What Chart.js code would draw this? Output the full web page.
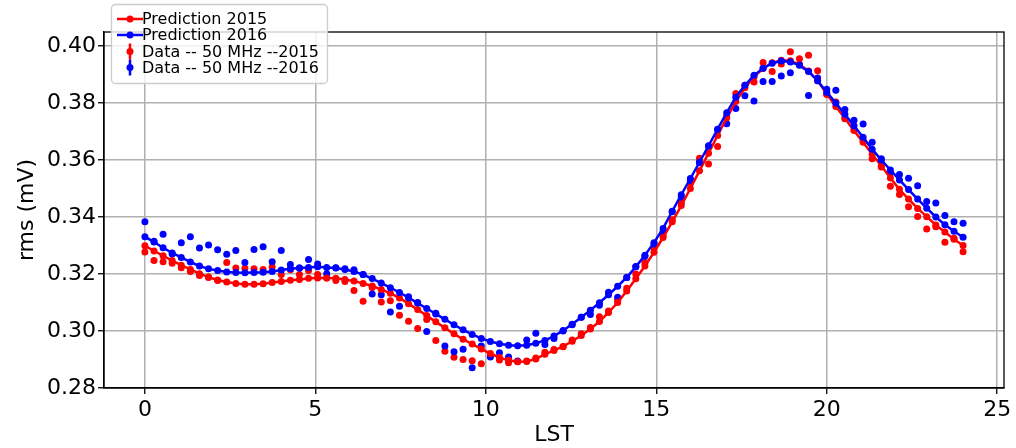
<!DOCTYPE html>
<html>
<head>
<meta charset="utf-8">
<script src="https://cdn.jsdelivr.net/npm/chart.js@4/dist/chart.umd.min.js"></script>
<style>
  body { margin: 0; background: #fff; }
  #wrap { width: 1016px; height: 448px; }
</style>
</head>
<body>
<div id="wrap"><canvas id="myChart"></canvas></div>
<script>
// LST bins (hours)
const lst = [
    0, 0.267, 0.533, 0.8, 1.067, 1.333, 1.6, 1.867, 2.133, 2.4,
    2.667, 2.933, 3.2, 3.467, 3.733, 4, 4.267, 4.533, 4.8, 5.067,
    5.333, 5.6, 5.867, 6.133, 6.4, 6.667, 6.933, 7.2, 7.467, 7.733,
    8, 8.267, 8.533, 8.8, 9.067, 9.333, 9.6, 9.867, 10.133, 10.4,
    10.667, 10.933, 11.2, 11.467, 11.733, 12, 12.267, 12.533, 12.8, 13.067,
    13.333, 13.6, 13.867, 14.133, 14.4, 14.667, 14.933, 15.2, 15.467, 15.733,
    16, 16.267, 16.533, 16.8, 17.067, 17.333, 17.6, 17.867, 18.133, 18.4,
    18.667, 18.933, 19.2, 19.467, 19.733, 20, 20.267, 20.533, 20.8, 21.067,
    21.333, 21.6, 21.867, 22.133, 22.4, 22.667, 22.933, 23.2, 23.467, 23.733,
    24
];

const pred2015 = [
    0.3299, 0.3281, 0.3264, 0.3247, 0.3231, 0.3216, 0.3201, 0.3189, 0.3179, 0.3172,
    0.3167, 0.3164, 0.3164, 0.3166, 0.3170, 0.3174, 0.3178, 0.3181, 0.3185, 0.3186,
    0.3186, 0.3185, 0.3181, 0.3175, 0.3167, 0.3158, 0.3146, 0.3132, 0.3116, 0.3096,
    0.3075, 0.3054, 0.3032, 0.3011, 0.2990, 0.2971, 0.2954, 0.2937, 0.2921, 0.2907,
    0.2897, 0.2892, 0.2893, 0.2902, 0.2918, 0.2932, 0.2946, 0.2964, 0.2984, 0.3007,
    0.3033, 0.3065, 0.3100, 0.3140, 0.3183, 0.3228, 0.3276, 0.3328, 0.3383, 0.3440,
    0.3500, 0.3562, 0.3624, 0.3686, 0.3748, 0.3805, 0.3853, 0.3892, 0.3921, 0.3941,
    0.3950, 0.3948, 0.3935, 0.3912, 0.3878, 0.3832, 0.3788, 0.3746, 0.3703, 0.3662,
    0.3620, 0.3580, 0.3537, 0.3497, 0.3463, 0.3430, 0.3401, 0.3372, 0.3347, 0.3322,
    0.3300
];

const pred2016 = [
    0.3331, 0.3312, 0.3292, 0.3274, 0.3258, 0.3242, 0.3228, 0.3218, 0.3212, 0.3207,
    0.3205, 0.3204, 0.3205, 0.3206, 0.3209, 0.3214, 0.3218, 0.3221, 0.3223, 0.3225,
    0.3223, 0.3221, 0.3216, 0.3209, 0.3198, 0.3184, 0.3168, 0.3152, 0.3135, 0.3117,
    0.3098, 0.3079, 0.3060, 0.3041, 0.3022, 0.3004, 0.2988, 0.2974, 0.2963, 0.2955,
    0.2950, 0.2948, 0.2950, 0.2957, 0.2967, 0.2982, 0.3002, 0.3024, 0.3048, 0.3073,
    0.3099, 0.3127, 0.3157, 0.3188, 0.3225, 0.3266, 0.3310, 0.3360, 0.3420, 0.3478,
    0.3535, 0.3592, 0.3650, 0.3708, 0.3766, 0.3820, 0.3862, 0.3897, 0.3922, 0.3939,
    0.3947, 0.3944, 0.3932, 0.3910, 0.3878, 0.3838, 0.3800, 0.3760, 0.3720, 0.3680,
    0.3638, 0.3600, 0.3565, 0.3530, 0.3496, 0.3463, 0.3431, 0.3400, 0.3373, 0.3350,
    0.3329
];

const data2015 = [
    0.3277, 0.3247, 0.3243, 0.3238, 0.3222, 0.3209, 0.3195, 0.3188, 0.3177, 0.3240,
    0.3221, 0.3220, 0.3218, 0.3216, 0.3225, 0.3198, 0.3215, 0.3198, 0.3212, 0.3198,
    0.3186, 0.3177, 0.3174, 0.3142, 0.3104, 0.3153, 0.3102, 0.3106, 0.3055, 0.3034,
    0.3009, 0.3040, 0.2967, 0.2929, 0.2908, 0.2900, 0.2896, 0.2885, 0.2912, 0.2898,
    0.2889, 0.2893, 0.2895, 0.2905, 0.2925, 0.2935, 0.2945, 0.2968, 0.2990, 0.3012,
    0.3050, 0.3070, 0.3108, 0.3150, 0.3200, 0.3240, 0.3292, 0.3335, 0.3390, 0.3450,
    0.3520, 0.3606, 0.3586, 0.3647, 0.3755, 0.3833, 0.3862, 0.3874, 0.3942, 0.3910,
    0.3937, 0.3980, 0.3955, 0.3967, 0.3913, 0.3830, 0.3803, 0.3745, 0.3706, 0.3668,
    0.3604, 0.3575, 0.3508, 0.3479, 0.3436, 0.3402, 0.3358, 0.3366, 0.3311, 0.3325,
    0.3278
];

const data2016 = [
    0.3383, 0.3315, 0.3339, 0.3270, 0.3310, 0.3331, 0.3291, 0.3302, 0.3285, 0.3269,
    0.3282, 0.3240, 0.3286, 0.3296, 0.3243, 0.3282, 0.3233, 0.3221, 0.3251, 0.3235,
    0.3201, 0.3222, 0.3218, 0.3215, 0.3198, 0.3130, 0.3127, 0.3067, 0.3087, 0.3120,
    0.3100, 0.2998, 0.3062, 0.2947, 0.2927, 0.2936, 0.2871, 0.2947, 0.2909, 0.2924,
    0.2909, 0.2895, 0.2968, 0.2992, 0.2953, 0.2974, 0.3000, 0.3022, 0.3048, 0.3058,
    0.3090, 0.3136, 0.3118, 0.3188, 0.3226, 0.3262, 0.3305, 0.3348, 0.3418, 0.3470,
    0.3528, 0.3590, 0.3648, 0.3706, 0.3727, 0.3781, 0.3825, 0.3807, 0.3875, 0.3875,
    0.3895, 0.3906, 0.3935, 0.3826, 0.3888, 0.3848, 0.3845, 0.3777, 0.3739, 0.3726,
    0.3662, 0.3604, 0.3554, 0.3549, 0.3536, 0.3510, 0.3454, 0.3449, 0.3405, 0.3383,
    0.3378
];

const xTicks = [0, 5, 10, 15, 20, 25];
const yTicks = [0.28, 0.30, 0.32, 0.34, 0.36, 0.38, 0.40];
const seriesNames = ['Prediction 2015', 'Prediction 2016', 'Data -- 50 MHz --2015', 'Data -- 50 MHz --2016'];
const seriesColors = ['#ff0000', '#0000ff', '#ff0000', '#0000ff'];

const toPoints = (ys) => ys.map((y, i) => ({x: lst[i], y: y}));

Chart.defaults.font.family = "'DejaVu Sans', sans-serif";
Chart.defaults.color = '#000';

// black box round the axes, like matplotlib spines
const frame = {
    id: 'frame',
    afterDatasetsDraw(chart) {
        const a = chart.chartArea;
        const ctx = chart.ctx;
        ctx.save();
        ctx.strokeStyle = '#000';
        ctx.lineWidth = 1.3;
        ctx.strokeRect(a.left, a.top, a.right - a.left, a.bottom - a.top);
        ctx.restore();
    }
};

// legend box in the upper left corner
const mplLegend = {
    id: 'mplLegend',
    afterDraw(chart) {
        const ctx = chart.ctx;
        ctx.save();
        ctx.beginPath();
        ctx.roundRect(111.5, 4.5, 216, 79, 4);
        ctx.fillStyle = 'rgba(255,255,255,0.8)';
        ctx.fill();
        ctx.strokeStyle = '#cccccc';
        ctx.lineWidth = 1.3;
        ctx.stroke();

        ctx.font = "16px 'DejaVu Sans'";
        ctx.textBaseline = 'middle';
        const rowY = [19, 35, 51.5, 67.5];
        seriesNames.forEach((name, i) => {
            const y = rowY[i];
            ctx.strokeStyle = seriesColors[i];
            ctx.fillStyle = seriesColors[i];
            ctx.lineWidth = 2.5;
            ctx.beginPath();
            if (i < 2) {
                ctx.moveTo(117, y);
                ctx.lineTo(143, y);
            } else {
                ctx.moveTo(130, y - 8);
                ctx.lineTo(130, y + 8);
            }
            ctx.stroke();
            ctx.beginPath();
            ctx.arc(130, y, 3.5, 0, Math.PI * 2);
            ctx.fill();
            ctx.fillStyle = '#000';
            ctx.fillText(name, 142, y + 1);
        });
        ctx.restore();
    }
};

const dotStyle = (color) => ({
    borderColor: color,
    backgroundColor: color,
    pointBackgroundColor: color,
    pointBorderWidth: 0,
    pointRadius: 3.5,
    pointHoverRadius: 3.5
});

const config = {
    type: 'scatter',
    data: {
        datasets: [
            Object.assign({label: seriesNames[0], data: toPoints(pred2015), showLine: true, borderWidth: 2.5, order: 1}, dotStyle(seriesColors[0])),
            Object.assign({label: seriesNames[1], data: toPoints(pred2016), showLine: true, borderWidth: 2.5, order: 0}, dotStyle(seriesColors[1])),
            Object.assign({label: seriesNames[2], data: toPoints(data2015), showLine: false, order: 3}, dotStyle(seriesColors[2])),
            Object.assign({label: seriesNames[3], data: toPoints(data2016), showLine: false, order: 2}, dotStyle(seriesColors[3]))
        ]
    },
    options: {
        responsive: true,
        maintainAspectRatio: false,
        animation: false,
        layout: {
            padding: {top: 32, right: 12, left: 0, bottom: 0}
        },
        plugins: {
            legend: {display: false},
            tooltip: {enabled: false}
        },
        scales: {
            x: {
                type: 'linear',
                min: -1.2,
                max: 25.2,
                afterBuildTicks: (axis) => { axis.ticks = xTicks.map(v => ({value: v})); },
                afterFit: (axis) => { axis.height = 60; },
                grid: {color: '#b0b0b0', lineWidth: 1.5, tickColor: '#000', tickLength: 6, tickWidth: 1.3},
                border: {color: '#000', width: 1.3},
                ticks: {font: {size: 22}, padding: 3, maxRotation: 0, callback: (v) => String(v)},
                title: {display: true, text: 'LST', font: {size: 22}, padding: 0}
            },
            y: {
                type: 'linear',
                min: 0.28,
                max: 0.4049,
                afterBuildTicks: (axis) => { axis.ticks = yTicks.map(v => ({value: v})); },
                afterFit: (axis) => { axis.width = 104; },
                grid: {color: '#b0b0b0', lineWidth: 1.5, tickColor: '#000', tickLength: 6, tickWidth: 1.3},
                border: {color: '#000', width: 1.3},
                ticks: {font: {size: 22}, padding: 2, callback: (v) => v.toFixed(2)},
                title: {display: true, text: 'rms (mV)', font: {size: 22}, padding: {top: 14, bottom: 0}}
            }
        }
    },
    plugins: [frame, mplLegend]
};

var myChart = new Chart(document.getElementById('myChart'), config);
</script>
</body>
</html>
